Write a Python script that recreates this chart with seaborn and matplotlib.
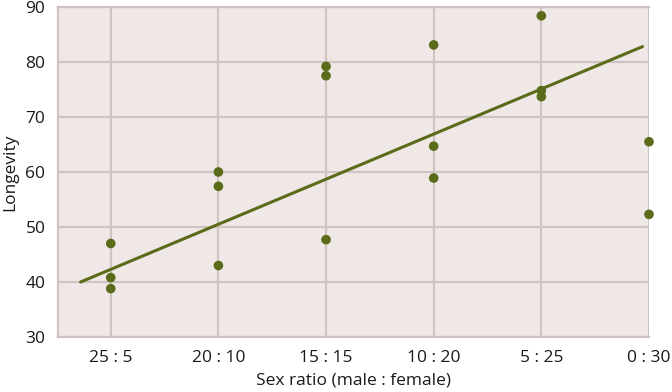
import pandas as pd
import numpy as np
import matplotlib
matplotlib.use('Agg')
import matplotlib.pyplot as plt
import seaborn as sns

# sex ratio categories (male : female)
ratios = ['25 : 5', '20 : 10', '15 : 15', '10 : 20', '5 : 25', '0 : 30']

# longevity observations per category
ratio_idx = [0, 0, 0, 1, 1, 1, 2, 2, 2, 3, 3, 3, 4, 4, 4, 5, 5]
longevity = [47.0, 40.8, 38.8, 60.0, 57.4, 43.0, 79.2, 77.5, 47.7,
             83.1, 64.7, 58.9, 88.4, 74.8, 73.7, 65.5, 52.3]

# trend line end points
trend_x = [-0.28, 4.94]
trend_y = [40.0, 82.8]

y_ticks = [30, 40, 50, 60, 70, 80, 90]

green = '#5a6b1a'
grid = '#cfc4c1'
bg = '#f0e8e6'

sns.set_style('white')
plt.rcParams['font.family'] = ['Open Sans', 'DejaVu Sans']

df = pd.DataFrame({'ratio': ratio_idx, 'longevity': longevity})
trend = pd.DataFrame({'x': trend_x, 'y': trend_y})

fig = plt.figure(figsize=(6.72, 3.92), dpi=100)
ax = fig.add_axes([58 / 672, 1 - 337 / 392, (649 - 58) / 672, (337 - 7) / 392])
ax.set_facecolor(bg)

sns.lineplot(data=trend, x='x', y='y', color=green, linewidth=2.2, ax=ax, zorder=3)
sns.scatterplot(data=df, x='ratio', y='longevity', color=green, s=48,
                edgecolor='none', ax=ax, zorder=4, clip_on=False)

ax.set_xlim(-0.49, 5)
ax.set_ylim(30, 90)
ax.set_xticks(range(len(ratios)))
ax.set_xticklabels(ratios)
ax.set_yticks(y_ticks)
ax.grid(True, color=grid, linewidth=1.6, zorder=0)
ax.set_axisbelow(True)
for s in ax.spines.values():
    s.set_color(grid)
    s.set_linewidth(1.6)
ax.spines['right'].set_visible(False)
ax.tick_params(length=0, pad=9, labelsize=12.5, colors='#1a1a1a')
ax.set_xlabel('Sex ratio (male : female)', fontsize=12.5, color='#1a1a1a', labelpad=5)
ax.set_ylabel('Longevity', fontsize=12.5, color='#1a1a1a', labelpad=5)

fig.savefig('out.png', dpi=100)
plt.close()
